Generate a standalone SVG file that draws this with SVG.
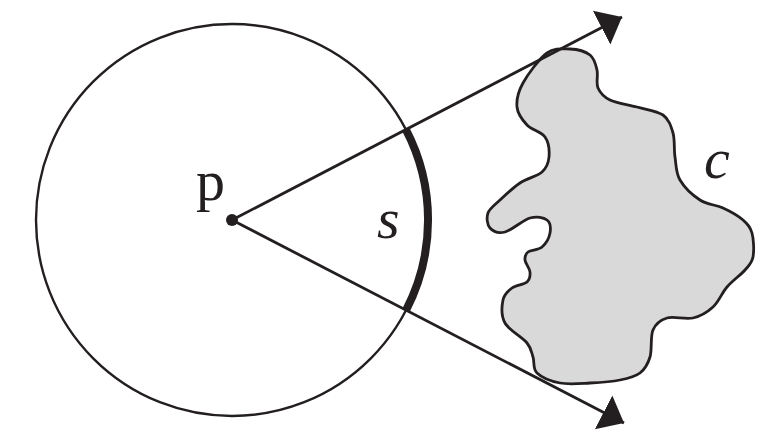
<svg xmlns="http://www.w3.org/2000/svg" width="763" height="435" viewBox="0 0 763 435">
<style>
.ln{fill:none;stroke:#231f20;stroke-width:2.8}
.circ{fill:none;stroke:#231f20;stroke-width:2.4}
text{font-family:'Liberation Serif','Times New Roman',Times,serif;font-size:58px;fill:#231f20}
.it{font-style:italic}
</style>
<defs>
<marker id="ah" markerUnits="userSpaceOnUse" markerWidth="26" markerHeight="44" refX="23" refY="0" viewBox="0 -22 26 44" orient="auto">
<path d="M0,-19 L23,0 L0,19 Z" fill="#231f20"/>
</marker>
</defs>
<rect width="763" height="435" fill="#fff"/>
<g id="circle">
<circle class="circ" cx="232" cy="220" r="196"/>
</g>
<g id="blob-c">
<path fill="#d9d9d9" stroke="#231f20" stroke-width="2.8" d="M570,49 C577.2,49.3 585.5,51.5 590,55 C594.5,58.5 595.7,64.5 597,70 C598.3,75.5 595.8,83 598,88 C600.2,93 603.5,96.8 610,100 C616.5,103.2 628.2,104.5 637,107 C645.8,109.5 657,110.7 663,115 C669,119.3 671,126 673,133 C675,140 673.8,149.2 675,157 C676.2,164.8 675.8,172.8 680,180 C684.2,187.2 692.8,195.3 700,200 C707.2,204.7 715.8,204.7 723,208 C730.2,211.3 738.2,215.8 743,220 C747.8,224.2 750.3,226.8 752,233 C753.7,239.2 754.2,250.8 753,257 C751.8,263.2 749.3,265 745,270 C740.7,275 732.3,280.8 727,287 C721.7,293.2 718.7,301.8 713,307 C707.3,312.2 700.7,316.2 693,318 C685.3,319.8 673.7,316 667,318 C660.3,320 655.8,323.5 653,330 C650.2,336.5 652.2,349.8 650,357 C647.8,364.2 645,369.2 640,373 C635,376.8 628.3,378.3 620,380 C611.7,381.7 600,382.5 590,383 C580,383.5 568.8,384.7 560,383 C551.2,381.3 541.5,377.3 537,373 C532.5,368.7 534.7,362 533,357 C531.3,352 531.7,348.7 527,343 C522.3,337.3 509,330.2 505,323 C501,315.8 501.8,305.8 503,300 C504.2,294.2 508,291 512,288 C516,285 524,284.7 527,282 C530,279.3 530.3,275.7 530,272 C529.7,268.3 525.3,263.3 525,260 C524.7,256.7 525.2,254.2 528,252 C530.8,249.8 538.3,250.2 542,247 C545.7,243.8 549.2,237.5 550,233 C550.8,228.5 550.3,222.5 547,220 C543.7,217.5 537,216 530,218 C523,220 511.7,230.3 505,232 C498.3,233.7 492.8,231.2 490,228 C487.2,224.8 486.3,217.7 488,213 C489.7,208.3 494.7,205 500,200 C505.3,195 513,187.7 520,183 C527,178.3 537.2,176.3 542,172 C546.8,167.7 548.5,162.8 549,157 C549.5,151.2 548.7,142.3 545,137 C541.3,131.7 531.7,130 527,125 C522.3,120 517.7,114 517,107 C516.3,100 518,92 523,83 C528,74 539.2,58.7 547,53 C554.8,47.3 562.8,49 570,49 Z"/>
<text class="it" x="704" y="178">c</text>
</g>
<g id="connectors">
<line class="ln" x1="232" y1="220" x2="622" y2="17" marker-end="url(#ah)"/>
<line class="ln" x1="232" y1="220" x2="624" y2="423" marker-end="url(#ah)"/>
</g>
<g id="arc-s">
<path d="M405.8,129.3 A196,196 0 0 1 406,310.3" fill="none" stroke="#231f20" stroke-width="8"/>
<text class="it" x="377" y="238">s</text>
</g>
<g id="point-p">
<circle cx="232" cy="220" r="6" fill="#231f20"/>
<text x="196" y="200">p</text>
</g>
</svg>
